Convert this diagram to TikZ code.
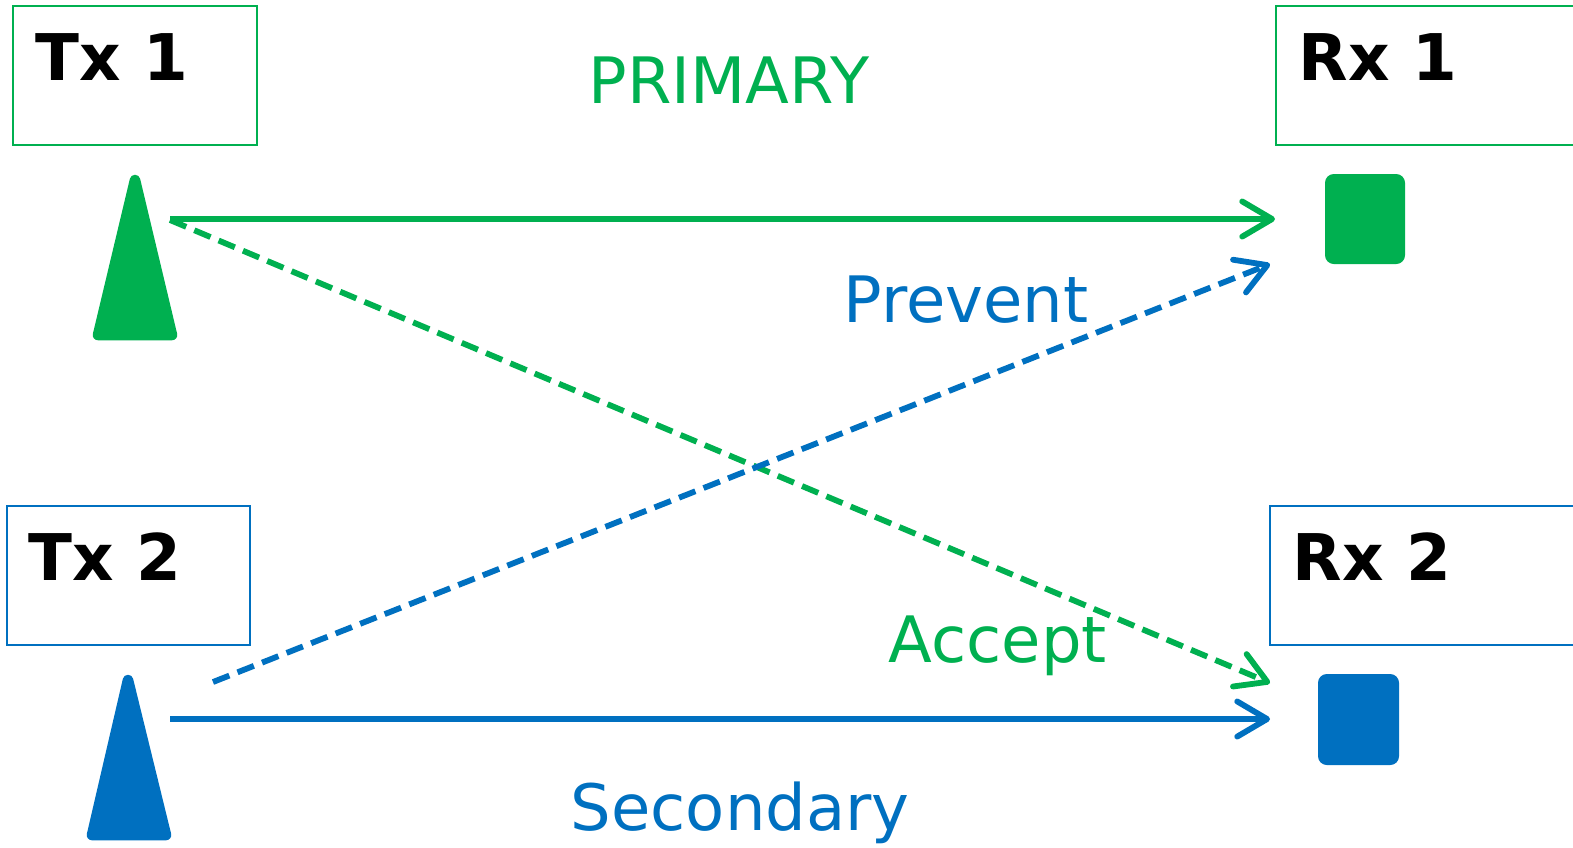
\documentclass[tikz,border=0pt]{standalone}
\usepackage{fontspec}
\setmainfont{DejaVu Sans}
\usetikzlibrary{arrows.meta}
\definecolor{pgreen}{HTML}{00B050}
\definecolor{sblue}{HTML}{0070C0}
\tikzset{
  lbox/.style={draw=#1, line width=0.6pt},
  boxtext/.style={anchor=base west, inner sep=0pt, font=\fontsize{18.3}{20}\selectfont\bfseries, text=black},
  lbl/.style={anchor=base west, inner sep=0pt, font=\fontsize{18.2}{20}\selectfont, text=#1},
  link/.style={draw=#1, line width=1.65pt, -{Straight Barb[length=8.5pt,width=10pt,line cap=round,line join=round]}},
  dlink/.style={link=#1, dash pattern=on 5pt off 2.5pt},
  ant/.style={fill=#1, draw=#1, line width=3pt, line join=round},
  sq/.style={fill=#1, rounded corners=2.5pt}
}
\begin{document}
\begin{tikzpicture}[x=0.01cm,y=-0.01cm]
\useasboundingbox (0,0) rectangle (1573,847);
% boxes
\draw[lbox=pgreen] (13,6) rectangle (257,145);
\draw[lbox=pgreen] (1276,6) rectangle (1580,145);
\draw[lbox=sblue] (7,506) rectangle (250,645);
\draw[lbox=sblue] (1270,506) rectangle (1580,645);
\node[boxtext] (tx1) at (35,80) {Tx 1};
\node[boxtext] (rx1) at (1298,80) {Rx 1};
\node[boxtext] (tx2) at (28,580) {Tx 2};
\node[boxtext] (rx2) at (1292,580) {Rx 2};
% antennas
\filldraw[ant=pgreen] (135,180) -- (172,335) -- (98,335) -- cycle;
\filldraw[ant=sblue] (128,680) -- (166,835) -- (92,835) -- cycle;
% receivers
\fill[sq=pgreen] (1325,174) rectangle (1405,264);
\fill[sq=sblue] (1318,674) rectangle (1399,765);
% endpoints
\coordinate (t1a) at (170,219);
\coordinate (t1b) at (170,220);
\coordinate (r1a) at (1275,219);
\coordinate (r1b) at (1270,264);
\coordinate (t2a) at (213,682);
\coordinate (t2b) at (170,719);
\coordinate (r2a) at (1270,683);
\coordinate (r2b) at (1270,719);
\draw[link=pgreen] (t1a) -- (r1a);
\draw[dlink=pgreen] (t1b) -- (r2a);
\draw[dlink=sblue] (t2a) -- (r1b);
\draw[link=sblue] (t2b) -- (r2b);
% labels
\node[lbl=pgreen] (primary) at (588,103) {PRIMARY};
\node[lbl=sblue] (prevent) at (843,322) {Prevent};
\node[lbl=pgreen] (accept) at (888,662) {Accept};
\node[lbl=sblue] (secondary) at (570,830) {Secondary};
\end{tikzpicture}
\end{document}
